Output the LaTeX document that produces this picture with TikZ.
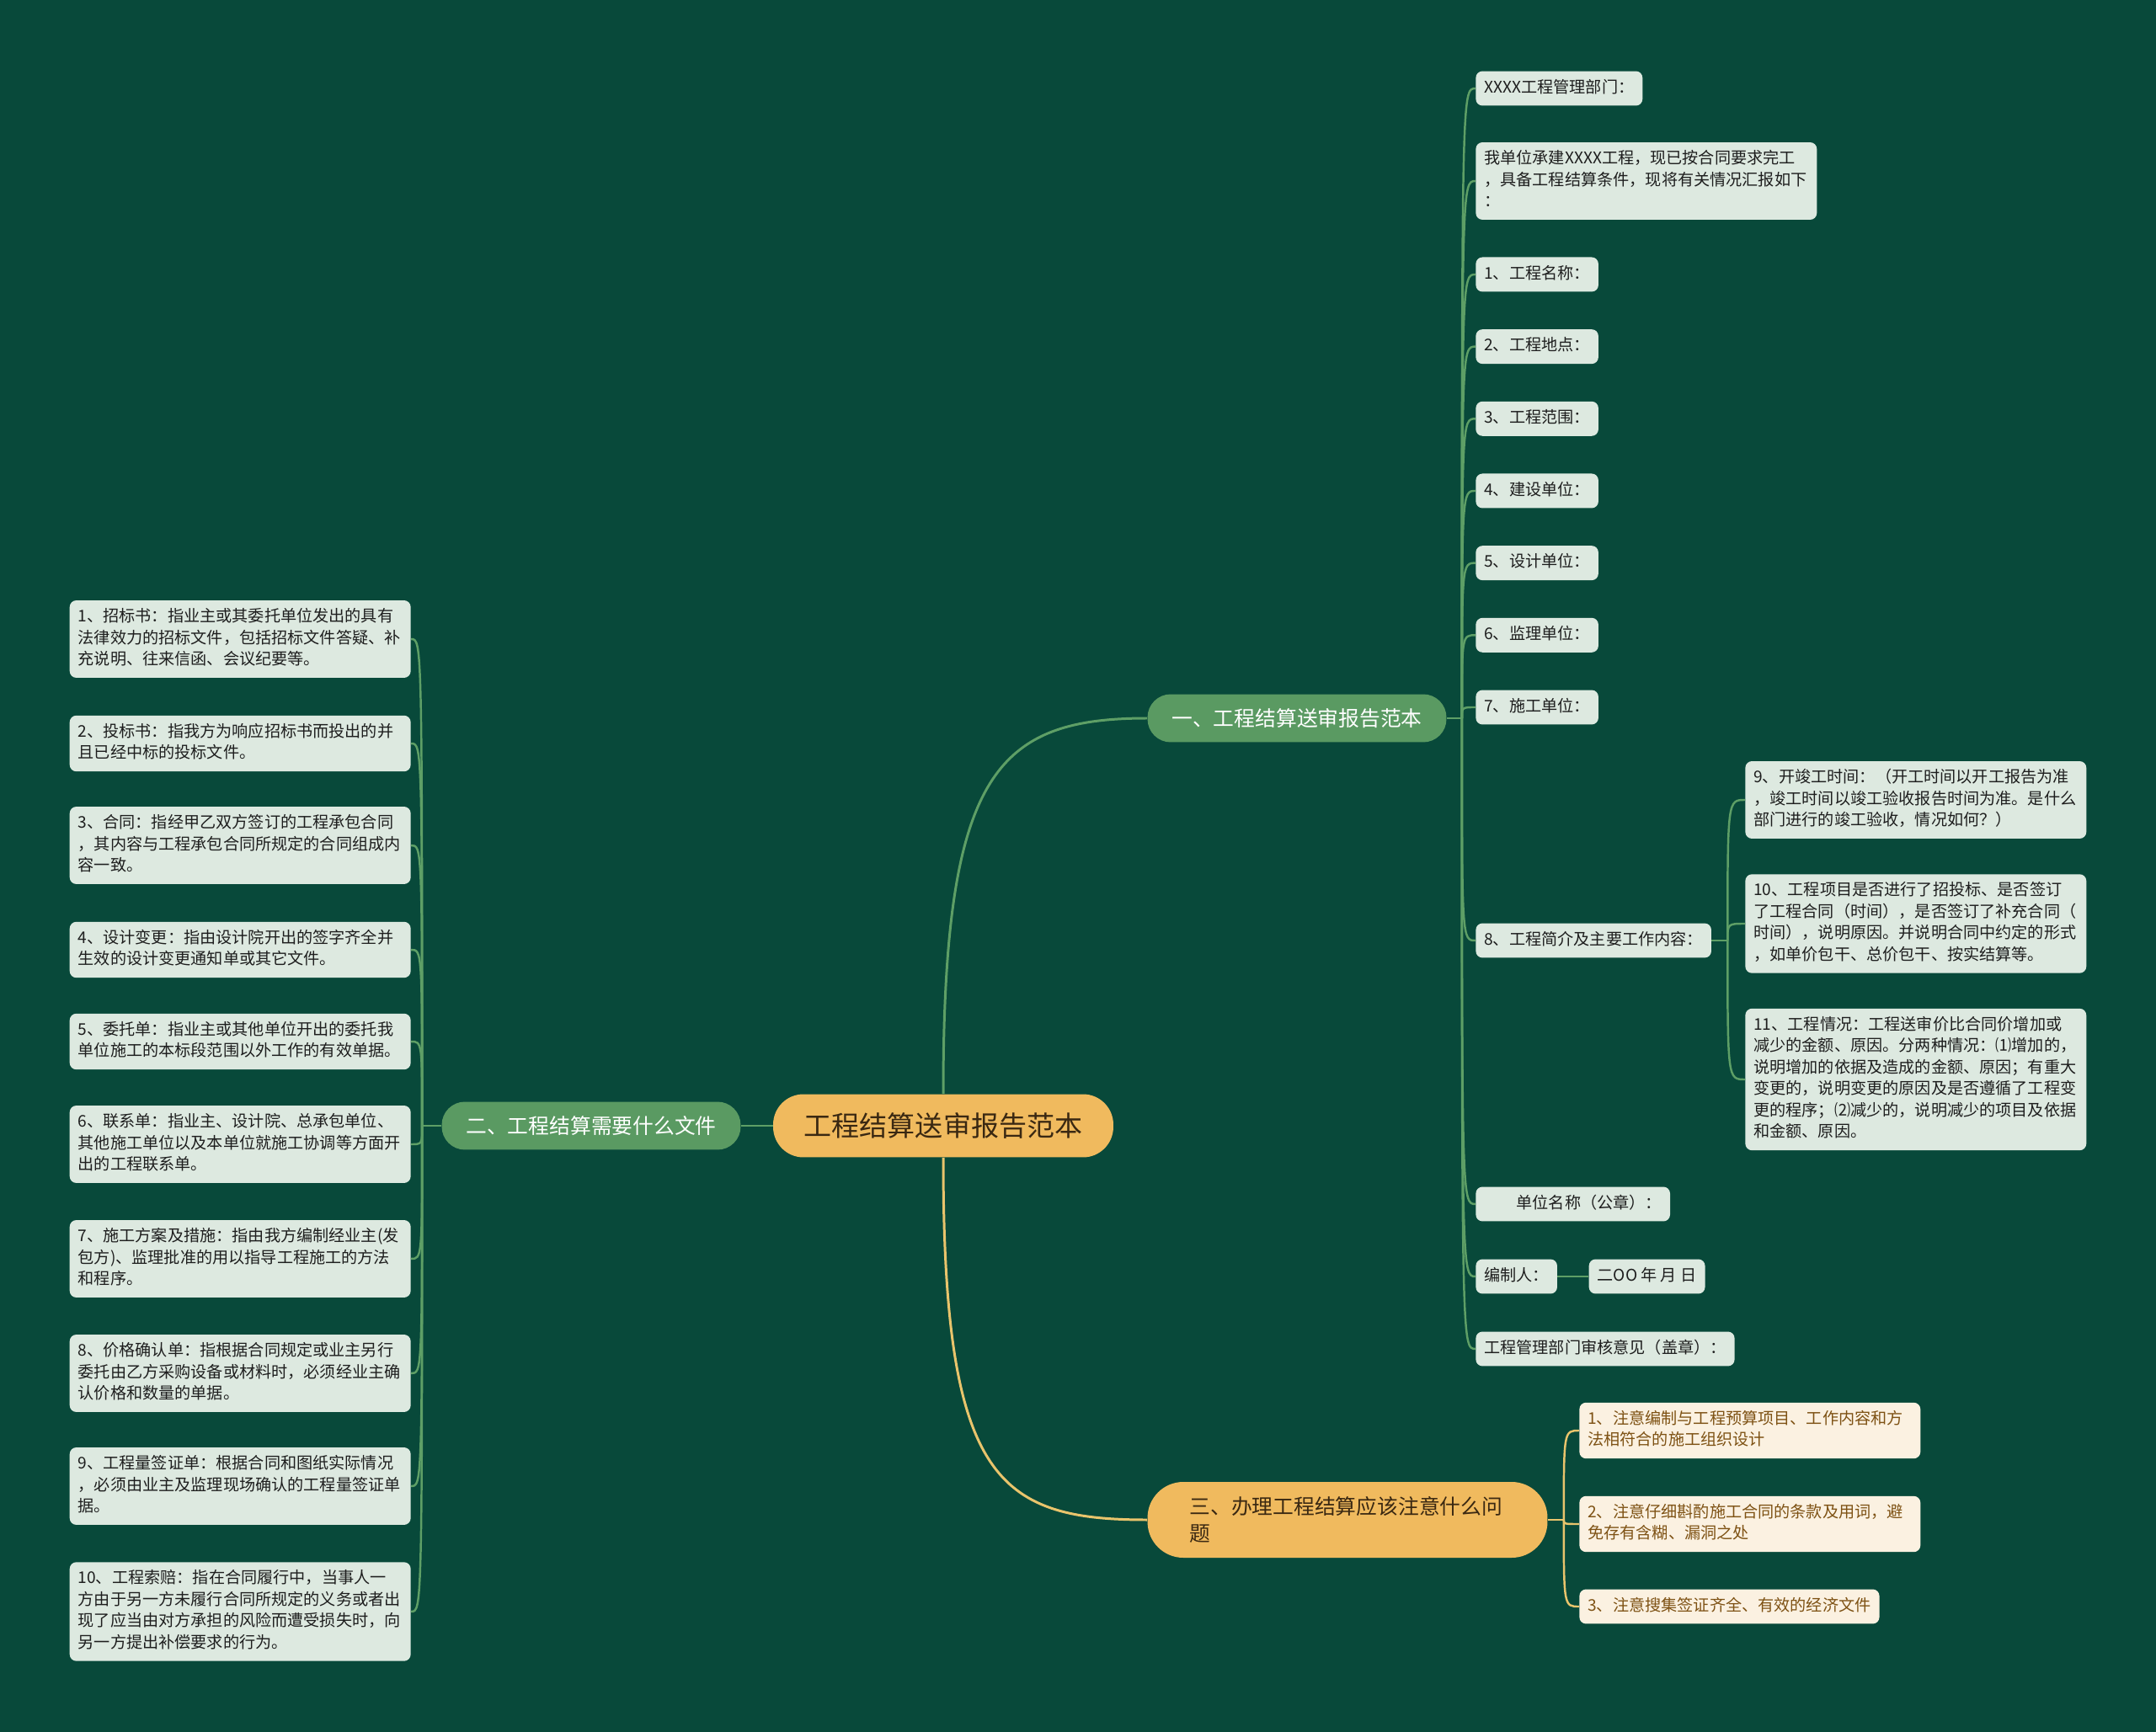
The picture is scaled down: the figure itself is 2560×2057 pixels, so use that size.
\documentclass[tikz,border=0pt]{standalone}
\usepackage{fontspec}
\newfontfamily\cjk{Noto Sans CJK SC}
\usepackage{tikz}
\usetikzlibrary{positioning}
\definecolor{mapbg}{HTML}{08493A}
\definecolor{mapgreen}{HTML}{5A9A62}
\definecolor{mapline}{HTML}{5E9F66}
\definecolor{mapleaf}{HTML}{DDE9E0}
\definecolor{mapink}{HTML}{1E1E1E}
\definecolor{maporange}{HTML}{F0BA5E}
\definecolor{mapgold}{HTML}{E9C46C}
\definecolor{mapcream}{HTML}{FBF1E1}
\definecolor{mapbrown}{HTML}{7E5214}
\definecolor{maproot}{HTML}{3A2812}
\tikzset{
  leafbox/.style={
    fill=mapleaf,
    text=mapink,
    rounded corners=4.5pt,
    align=left,
    inner xsep=0.2cm,
    inner ysep=0.155cm,
    font=\cjk\fontsize{10.9}{14.5}\selectfont,
    execute at begin node=\strut,
    execute at end node=\strut
  },
  leafwide/.style={leafbox, text width=7.7cm},
  noteleaf/.style={leafwide, fill=mapcream, text=mapbrown},
  notesingle/.style={leafbox, fill=mapcream, text=mapbrown},
  link/.style={draw=mapline, line width=1.4pt},
  goldlink/.style={draw=mapgold, line width=1.4pt}
}

\begin{document}
\begin{tikzpicture}[
  x=0.02cm, y=-0.02cm,
  rootnode/.style={
    fill=maporange,
    text=maproot,
    rounded corners=0.72cm,
    minimum width=8.08cm,
    minimum height=1.5cm,
    font=\cjk\fontsize{18.8}{22}\selectfont
  },
  branch/.style={
    fill=mapgreen,
    text=white,
    rounded corners=0.55cm,
    minimum width=7.1cm,
    minimum height=1.14cm,
    font=\cjk\fontsize{14.1}{18}\selectfont
  },
  branchgold/.style={
    fill=maporange,
    text=maproot,
    rounded corners=0.85cm,
    align=left,
    text width=7.5cm,
    inner xsep=1cm,
    minimum height=1.8cm,
    font=\cjk\fontsize{14.1}{18.2}\selectfont
  },
  mainlink/.style={link, line width=1.7pt}
]
  \fill[mapbg] (0,0) rectangle (2560,2057);
  \useasboundingbox (0,0) rectangle (2560,2057);

  \node[rootnode] (root) at (1120,1337) {工程结算送审报告范本};
  \node[branch] (b1) at (1540,853) {一、工程结算送审报告范本};
  \node[branch] (b2) at (702,1337) {二、工程结算需要什么文件};
  \node[branchgold] (b3) at (1600,1805) {三、办理工程结算应该注意什么问\\题};

  \node[leafbox, anchor=west] (r0) at (1752,105) {XXXX工程管理部门：};
  \node[leafwide, anchor=west] (ra) at (1752,215) {我单位承建XXXX工程，现已按合同要求完工\\，具备工程结算条件，现将有关情况汇报如下\\：};
  \foreach \t [count=\i] in {工程名称,工程地点,工程范围,建设单位,设计单位,监理单位,施工单位}
    \node[leafbox, anchor=west] (r\i) at (1752,{240.3+85.67*\i}) {\i、\t：};
  \node[leafbox, anchor=west] (r8) at (1752,1117) {8、工程简介及主要工作内容：};
  \node[leafwide, anchor=west] (r9) at (2072,950) {9、开竣工时间：（开工时间以开工报告为准\\，竣工时间以竣工验收报告时间为准。是什么\\部门进行的竣工验收，情况如何？）};
  \node[leafwide, anchor=west] (r10) at (2072,1097) {10、工程项目是否进行了招投标、是否签订\\了工程合同（时间），是否签订了补充合同（\\时间），说明原因。并说明合同中约定的形式\\，如单价包干、总价包干、按实结算等。};
  \node[leafwide, anchor=west] (r11) at (2072,1282) {11、工程情况：工程送审价比合同价增加或\\减少的金额、原因。分两种情况：⑴增加的，\\说明增加的依据及造成的金额、原因；有重大\\变更的，说明变更的原因及是否遵循了工程变\\更的程序；⑵减少的，说明减少的项目及依据\\和金额、原因。};
  \node[leafbox, anchor=west] (w1) at (1752,1430) {　　单位名称（公章）：};
  \node[leafbox, anchor=west] (w2) at (1752,1516) {编制人：};
  \node[leafbox, right=0.74cm of w2] (date) {二OO 年 月 日};
  \node[leafbox, anchor=west] (w3) at (1752,1602) {工程管理部门审核意见（盖章）：};

  \node[leafwide, anchor=east] (l1) at (488,759) {1、招标书：指业主或其委托单位发出的具有\\法律效力的招标文件，包括招标文件答疑、补\\充说明、往来信函、会议纪要等。};
  \node[leafwide, anchor=east] (l2) at (488,883) {2、投标书：指我方为响应招标书而投出的并\\且已经中标的投标文件。};
  \node[leafwide, anchor=east] (l3) at (488,1004) {3、合同：指经甲乙双方签订的工程承包合同\\，其内容与工程承包合同所规定的合同组成内\\容一致。};
  \node[leafwide, anchor=east] (l4) at (488,1128) {4、设计变更：指由设计院开出的签字齐全并\\生效的设计变更通知单或其它文件。};
  \node[leafwide, anchor=east] (l5) at (488,1237) {5、委托单：指业主或其他单位开出的委托我\\单位施工的本标段范围以外工作的有效单据。};
  \node[leafwide, anchor=east] (l6) at (488,1359) {6、联系单：指业主、设计院、总承包单位、\\其他施工单位以及本单位就施工协调等方面开\\出的工程联系单。};
  \node[leafwide, anchor=east] (l7) at (488,1495) {7、施工方案及措施：指由我方编制经业主(发\\包方)、监理批准的用以指导工程施工的方法\\和程序。};
  \node[leafwide, anchor=east] (l8) at (488,1631) {8、价格确认单：指根据合同规定或业主另行\\委托由乙方采购设备或材料时，必须经业主确\\认价格和数量的单据。};
  \node[leafwide, anchor=east] (l9) at (488,1765) {9、工程量签证单：根据合同和图纸实际情况\\，必须由业主及监理现场确认的工程量签证单\\据。};
  \node[leafwide, anchor=east] (l10) at (488,1914) {10、工程索赔：指在合同履行中，当事人一\\方由于另一方未履行合同所规定的义务或者出\\现了应当由对方承担的风险而遭受损失时，向\\另一方提出补偿要求的行为。};

  \node[noteleaf, anchor=west] (n1) at (1875,1699) {1、注意编制与工程预算项目、工作内容和方\\法相符合的施工组织设计};
  \node[noteleaf, anchor=west] (n2) at (1875,1810) {2、注意仔细斟酌施工合同的条款及用词，避\\免存有含糊、漏洞之处};
  \node[notesingle, anchor=west] (n3) at (1875,1908) {3、注意搜集签证齐全、有效的经济文件};

  \draw[mainlink] (root.west) -- (b2.east);
  \draw[mainlink] (root.north) .. controls +(0,-380) and +(-180,0) .. (b1.west);
  \draw[mainlink, draw=mapgold] (root.south) .. controls +(0,380) and +(-180,0) .. (b3.west);

  \draw[link] (b1.east) -- ++(18,0) coordinate (s1);
  \foreach \n in {r0,ra,r1,r2,r3,r4,r5,r6,r7,r8,w1,w2,w3}
    \draw[link] (s1) .. controls (s1 |- \n.west) .. (\n.west);
  \draw[link] (r8.east) -- ++(19,0) coordinate (s8);
  \foreach \n in {r9,r10,r11}
    \draw[link] (s8) .. controls (s8 |- \n.west) .. (\n.west);
  \draw[link] (w2) -- (date);

  \draw[link] (b2.west) -- ++(-23,0) coordinate (s2);
  \foreach \i in {1,...,10}
    \draw[link] (s2) .. controls (s2 |- l\i.east) .. (l\i.east);

  \draw[goldlink] (b3.east) -- ++(19,0) coordinate (s3);
  \foreach \n in {n1,n2,n3}
    \draw[goldlink] (s3) .. controls (s3 |- \n.west) .. (\n.west);
\end{tikzpicture}
\end{document}
